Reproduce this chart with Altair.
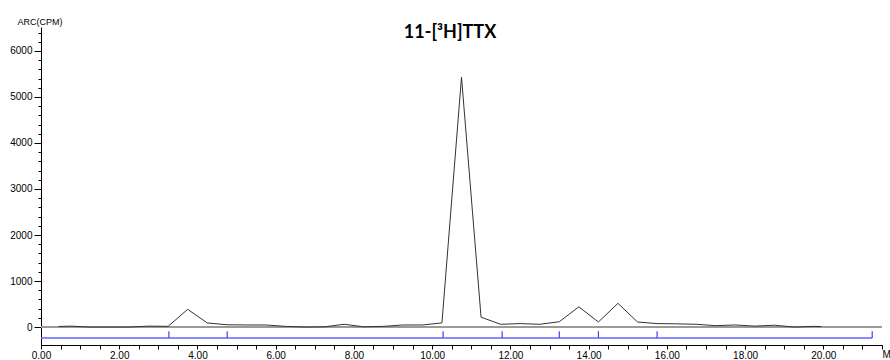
import altair as alt
import pandas as pd

# Radio chromatogram data (time in min, counts in CPM)
times = [0.45, 0.75, 1.25, 1.75, 2.25, 2.75, 3.25, 3.75, 4.25, 4.75, 5.25, 5.75,
         6.25, 6.75, 7.25, 7.75, 8.25, 8.75, 9.25, 9.75, 10.25, 10.75, 11.25,
         11.75, 12.25, 12.75, 13.25, 13.75, 14.25, 14.75, 15.25, 15.75, 16.25,
         16.75, 17.25, 17.75, 18.25, 18.75, 19.25, 19.75, 19.95]
cpm = [12, 20, 0, 0, 0, 20, 15, 385, 90, 50, 45, 45,
       15, 0, 5, 60, 5, 15, 45, 45, 90, 5430, 215,
       60, 75, 60, 115, 440, 110, 515, 110, 75, 70,
       60, 30, 45, 20, 40, 0, 15, 10]

# Fraction markers (blue ticks)
fraction_marks = [3.27, 4.76, 10.28, 11.79, 13.25, 14.25, 15.75, 21.25]
fraction_start = 0.0
fraction_end = 21.25
fraction_level = -240
fraction_tick_top = -90

# Axis tick values
y_ticks = [i * 200 for i in range(33)]
x_ticks = [i * 0.5 for i in range(44)]

title_text = "11-[³H]TTX"

df = pd.DataFrame({"t": times, "cpm": cpm})
marks_df = pd.DataFrame({"t": fraction_marks})
bar_df = pd.DataFrame({"t": [fraction_start], "t2": [fraction_end]})
title_df = pd.DataFrame({"label": [title_text]})

x_scale = alt.Scale(domain=[0, 21.5], nice=False, zero=False)
y_scale = alt.Scale(domain=[-390, 6520], nice=False, zero=False)

x_axis = alt.Axis(
    values=x_ticks, tickCount=200,
    labelExpr="datum.value % 2 === 0 ? format(datum.value, '.2f') : ''",
    grid=False, domainColor="black", tickColor="black", tickSize=4,
    labelFont="Liberation Sans", labelFontSize=10, labelColor="black",
    labelPadding=1, labelFlush=False, labelOverlap=False,
    title="M", titleX=841, titleY=4, titleAlign="left", titleBaseline="top",
    titleFont="Liberation Sans", titleFontSize=10, titleFontWeight="normal",
)
y_axis = alt.Axis(
    values=y_ticks, tickCount=200,
    labelExpr="datum.value % 1000 === 0 ? format(datum.value, 'd') : ''",
    grid=False, domainColor="black", tickColor="black",
    tickSize={"condition": {"test": "datum.value % 1000 === 0", "value": 7}, "value": 3},
    labelFont="Liberation Sans", labelFontSize=10, labelColor="black",
    labelPadding=2, labelOverlap=False, labelFlush=False,
    title="ARC(CPM)", titleAngle=0, titleX=-24, titleY=-6,
    titleAlign="left", titleBaseline="middle",
    titleFont="Liberation Sans", titleFontSize=9, titleFontWeight="normal",
)

base_rule = alt.Chart(df).mark_rule(color="#9a9a9a", strokeWidth=2).encode(
    x=alt.value(0), x2=alt.value(841),
    y=alt.datum(0),
)

blue_bar = alt.Chart(bar_df).mark_rule(color="#6464ff", strokeWidth=1.5).encode(
    x=alt.X("t:Q"), x2="t2:Q",
    y=alt.datum(fraction_level),
)

blue_ticks = alt.Chart(marks_df).mark_rule(color="#4040ff", strokeWidth=1.2).encode(
    x=alt.X("t:Q"),
    y=alt.datum(fraction_tick_top),
    y2=alt.datum(fraction_level),
)

line = alt.Chart(df).mark_line(color="#333333", strokeWidth=1).encode(
    x=alt.X("t:Q", scale=x_scale, axis=x_axis),
    y=alt.Y("cpm:Q", scale=y_scale, axis=y_axis),
)

title = alt.Chart(title_df).mark_text(
    font="Lato", fontSize=18, fontWeight="bold", color="black",
    align="center", baseline="middle",
).encode(text="label:N", x=alt.value(409), y=alt.value(6))

chart = alt.layer(base_rule, blue_bar, blue_ticks, line, title).properties(
    width=841, height=318,
    autosize=alt.AutoSizeParams(type="none"),
    padding={"left": 41, "top": 27, "right": 8, "bottom": 15},
    background="white",
).configure_view(stroke=None)

chart.save("out.html", embed_options={"renderer": "svg", "actions": False})
